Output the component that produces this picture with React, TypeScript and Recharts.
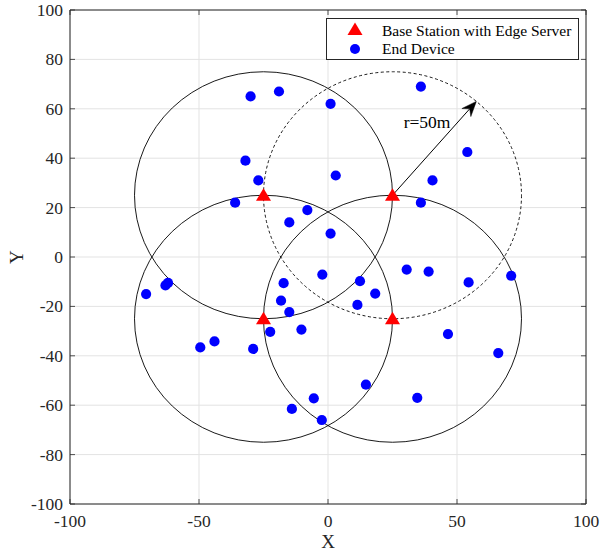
import React from 'react';
import {
  ScatterChart,
  Scatter,
  XAxis,
  YAxis,
  CartesianGrid,
  ReferenceDot,
  ReferenceLine,
  ReferenceArea,
  Legend,
} from 'recharts';

// ---------- data ----------
const stationX = [-25, 25, -25, 25];
const stationY = [25, 25, -25, -25];
const dashedStationIndex = 1; // the station whose coverage circle is dashed

const deviceX = [
  -30, -19, 1, -32, -27, -36, -8, -15, 1, 36, 54, 3, 40.5, 36,
  -70.5, -63, -62, -49.5, -44, -29, -22.4, -17.2, -18.2, -15, -10.3, -2.2,
  -5.5, -14, -2.4, 12.4, 18.3, 11.4, 30.5, 39, 54.5, 71, 46.5, 66, 14.7, 34.6,
];
const deviceY = [
  65, 67, 62, 39, 31, 22, 19, 14, 9.5, 69, 42.5, 33, 31, 22,
  -15, -11.5, -10.5, -36.6, -34.2, -37.2, -30.3, -10.6, -17.7, -22.3, -29.4, -7.1,
  -57.2, -61.5, -66, -9.8, -14.8, -19.4, -5.1, -5.9, -10.3, -7.6, -31.2, -38.9, -51.7, -57,
];

const coverageRadius = 50;
const arrowEnd = { x: 57.5, y: 63 };
const radiusLabel = 'r=50m';
const radiusLabelPos = { x: 38.4, y: 54.5 };

const xDomain: [number, number] = [-100, 100];
const yDomain: [number, number] = [-100, 100];
const xTicks = [-100, -50, 0, 50, 100];
const yTicks = [-100, -80, -60, -40, -20, 0, 20, 40, 60, 80, 100];

const stationName = 'Base Station with Edge Server';
const deviceName = 'End Device';

const stations = stationX.map((x, i) => ({ x, y: stationY[i] }));
const devices = deviceX.map((x, i) => ({ x, y: deviceY[i] }));

// ---------- layout ----------
const W = 600;
const H = 554;
const MARGIN = { top: 10, right: 14, bottom: 0, left: 0 };
const Y_AXIS_W = 70;
const X_AXIS_H = 50;
const PLOT_W = W - MARGIN.left - MARGIN.right - Y_AXIS_W;
const PLOT_H = H - MARGIN.top - MARGIN.bottom - X_AXIS_H;
const PLOT_TOP = MARGIN.top;
const PLOT_RIGHT = MARGIN.left + Y_AXIS_W + PLOT_W;
const RX = (coverageRadius * PLOT_W) / (xDomain[1] - xDomain[0]);
const RY = (coverageRadius * PLOT_H) / (yDomain[1] - yDomain[0]);

const FONT = '"Liberation Serif", "Times New Roman", serif';
const AXIS_COLOR = '#262626';
const TICK_LEN = 5;
const textStyle = { fontFamily: FONT };

const XTick = (props: any) => {
  const { x, y, payload } = props;
  return (
    <g>
      <line x1={x} y1={y} x2={x} y2={y - TICK_LEN} stroke={AXIS_COLOR} strokeWidth={0.8} />
      <line x1={x} y1={PLOT_TOP} x2={x} y2={PLOT_TOP + TICK_LEN} stroke={AXIS_COLOR} strokeWidth={0.8} />
      <text x={x} y={y + 22.5} textAnchor="middle" fontFamily={FONT} style={textStyle} fontSize={17.5} fill={AXIS_COLOR}>
        {payload.value}
      </text>
    </g>
  );
};

const YTick = (props: any) => {
  const { x, y, payload } = props;
  return (
    <g>
      <line x1={x} y1={y} x2={x + TICK_LEN} y2={y} stroke={AXIS_COLOR} strokeWidth={0.8} />
      <line x1={PLOT_RIGHT} y1={y} x2={PLOT_RIGHT - TICK_LEN} y2={y} stroke={AXIS_COLOR} strokeWidth={0.8} />
      <text x={x - 7} y={y + 6} textAnchor="end" fontFamily={FONT} style={textStyle} fontSize={17.5} fill={AXIS_COLOR}>
        {payload.value}
      </text>
    </g>
  );
};

const Triangle = (props: any) => {
  const { cx, cy, fill } = props;
  if (cx == null || cy == null) return null;
  const pts = `${cx},${cy - 7} ${cx - 7.5},${cy + 5.5} ${cx + 7.5},${cy + 5.5}`;
  return <polygon points={pts} fill={fill} stroke="none" />;
};

const Dot = (props: any) => {
  const { cx, cy, fill } = props;
  if (cx == null || cy == null) return null;
  return <circle cx={cx} cy={cy} r={5.1} fill={fill} stroke="none" />;
};

const makeCircle = (dashed: boolean) => (props: any) => {
  const { cx, cy } = props;
  return (
    <ellipse
      cx={cx}
      cy={cy}
      rx={RX}
      ry={RY}
      fill="none"
      stroke="#000"
      strokeWidth={0.9}
      strokeDasharray={dashed ? '3 2.5' : undefined}
    />
  );
};

const Arrow = (props: any) => {
  const { x1, y1, x2, y2 } = props;
  if ([x1, y1, x2, y2].some((v) => v == null)) return null;
  const dx = x2 - x1;
  const dy = y2 - y1;
  const len = Math.sqrt(dx * dx + dy * dy) || 1;
  const ux = dx / len;
  const uy = dy / len;
  const nx = -uy;
  const ny = ux;
  const L = 15;
  const w = 6;
  const notch = 5;
  const bx = x2 - ux * L;
  const by = y2 - uy * L;
  const mx = x2 - ux * (L - notch);
  const my = y2 - uy * (L - notch);
  const pts = `${x2},${y2} ${bx + nx * w},${by + ny * w} ${mx},${my} ${bx - nx * w},${by - ny * w}`;
  return (
    <g>
      <line x1={x1} y1={y1} x2={mx} y2={my} stroke="#000" strokeWidth={1} />
      <polygon points={pts} fill="#000" stroke="#000" strokeWidth={0.5} />
    </g>
  );
};

const RadiusText = (props: any) => {
  const { cx, cy } = props;
  return (
    <text x={cx} y={cy + 6} textAnchor="middle" fontFamily={FONT} style={textStyle} fontSize={17.5} fill="#000">
      {radiusLabel}
    </text>
  );
};

const LegendBox = (props: any) => {
  const payload: any[] = props.payload || [];
  const st = payload.find((p) => p.value === stationName);
  const dv = payload.find((p) => p.value === deviceName);
  return (
    <svg width={253} height={42} style={{ display: 'block' }}>
      <rect x={0.5} y={0.5} width={252} height={41} fill="#fff" stroke={AXIS_COLOR} strokeWidth={1} />
      <polygon points="29,4.5 21.5,17 36.5,17" fill={st ? st.color : '#ff0000'} />
      <circle cx={29} cy={31} r={5} fill={dv ? dv.color : '#0000ff'} />
      <text x={56} y={17.5} fontFamily={FONT} style={textStyle} fontSize={15.5} fill="#000">
        {st ? st.value : stationName}
      </text>
      <text x={56} y={36} fontFamily={FONT} style={textStyle} fontSize={15.5} fill="#000">
        {dv ? dv.value : deviceName}
      </text>
    </svg>
  );
};

export default function App() {
  return (
    <div style={{ position: 'absolute', left: 0, top: 0, width: W, height: H, background: '#fff' }}>
      <ScatterChart width={W} height={H} margin={MARGIN}>
        <CartesianGrid stroke="#e3e3e3" strokeWidth={1} />
        <XAxis
          type="number"
          dataKey="x"
          domain={xDomain}
          ticks={xTicks}
          height={X_AXIS_H}
          tickSize={0}
          tickMargin={0}
          tickLine={false}
          axisLine={false}
          tick={(p: any) => <XTick {...p} />}
          interval={0}
          allowDataOverflow
        />
        <YAxis
          type="number"
          dataKey="y"
          domain={yDomain}
          ticks={yTicks}
          width={Y_AXIS_W}
          tickSize={0}
          tickMargin={0}
          tickLine={false}
          axisLine={false}
          tick={(p: any) => <YTick {...p} />}
          interval={0}
          allowDataOverflow
        />
        <ReferenceArea
          x1={xDomain[0]}
          x2={xDomain[1]}
          y1={yDomain[0]}
          y2={yDomain[1]}
          fill="none"
          fillOpacity={0}
          stroke={AXIS_COLOR}
          strokeWidth={1}
          ifOverflow="visible"
        />
        {stations.map((s, i) => (
          <ReferenceDot
            key={`c${i}`}
            x={s.x}
            y={s.y}
            r={0}
            ifOverflow="visible"
            shape={makeCircle(i === dashedStationIndex)}
          />
        ))}
        <ReferenceLine
          segment={[
            { x: stations[dashedStationIndex].x, y: stations[dashedStationIndex].y },
            { x: arrowEnd.x, y: arrowEnd.y },
          ]}
          ifOverflow="visible"
          shape={(p: any) => <Arrow {...p} />}
        />
        <ReferenceDot
          x={radiusLabelPos.x}
          y={radiusLabelPos.y}
          r={0}
          ifOverflow="visible"
          shape={(p: any) => <RadiusText {...p} />}
        />
        <Scatter
          name={stationName}
          data={stations}
          fill="#ff0000"
          shape={(p: any) => <Triangle {...p} />}
          isAnimationActive={false}
        />
        <Scatter
          name={deviceName}
          data={devices}
          fill="#0000ff"
          shape={(p: any) => <Dot {...p} />}
          isAnimationActive={false}
        />
        <Legend
          layout="vertical"
          align="center"
          verticalAlign="middle"
          wrapperStyle={{ left: 326, top: 18, width: 253, height: 42 }}
          content={(p: any) => <LegendBox {...p} />}
        />
        <text x={23} y={257} transform="rotate(-90 23 257)" textAnchor="middle" fontFamily={FONT} style={textStyle} fontSize={19} fill={AXIS_COLOR}>
          Y
        </text>
        <text x={328} y={548} textAnchor="middle" fontFamily={FONT} style={textStyle} fontSize={19} fill={AXIS_COLOR}>
          X
        </text>
      </ScatterChart>
    </div>
  );
}
